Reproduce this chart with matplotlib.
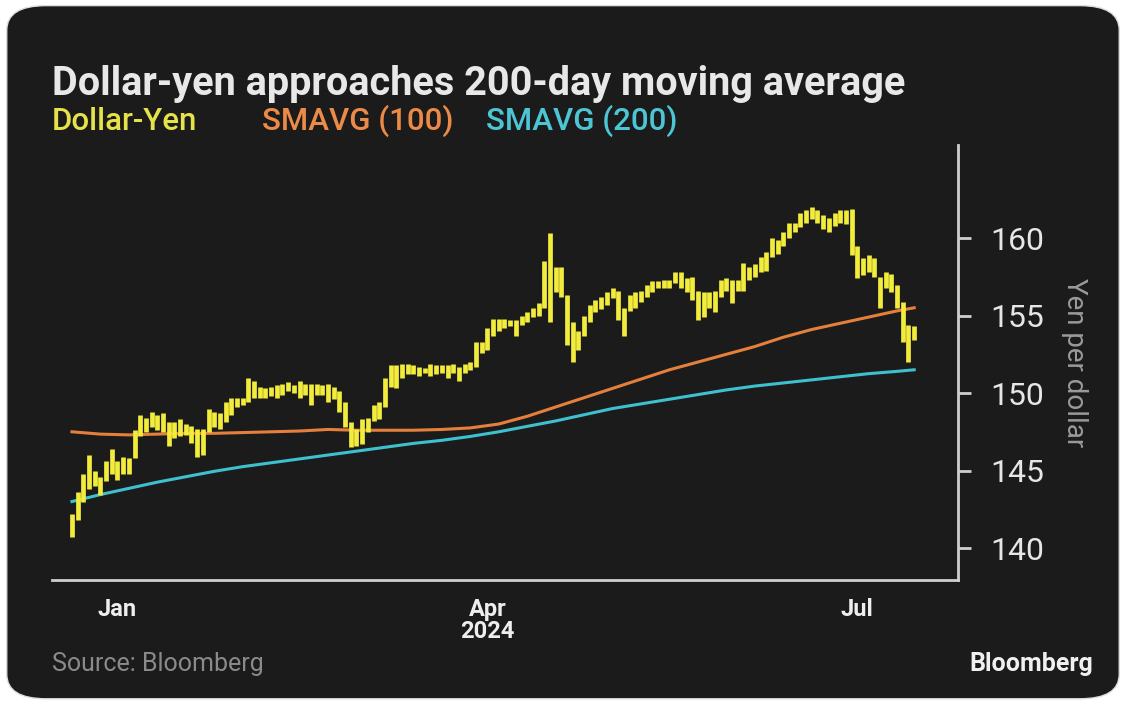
import matplotlib.pyplot as plt
import numpy as np
import pandas as pd
from matplotlib.patches import FancyBboxPatch

plt.rcParams['font.family'] = ['Roboto', 'DejaVu Sans']

# ---------------------------
# Data
# ---------------------------
dates = pd.bdate_range("2024-01-02", "2024-07-26")   # 149 trading days

high = [142.2, 143.6, 144.8, 146.0, 145.0, 144.6, 145.6, 146.4, 145.6, 145.9,
        145.8, 147.6, 148.6, 148.4, 148.8, 148.6, 148.7, 148.1, 148.1, 148.3,
        148.0, 147.9, 147.7, 147.7, 149.0, 148.8, 148.7, 149.4, 149.7, 149.7,
        149.7, 151.0, 150.8, 150.4, 150.3, 150.4, 150.5, 150.6, 150.7, 150.5,
        150.8, 150.6, 150.6, 150.6, 150.5, 150.6, 150.4, 150.1, 149.4, 148.1,
        147.7, 148.3, 148.4, 149.2, 149.4, 151.0, 151.8, 151.8, 151.9, 151.9,
        151.8, 151.7, 151.6, 151.9, 151.8, 151.8, 151.8, 151.9, 151.7, 151.9,
        152.0, 153.3, 153.3, 154.2, 154.8, 154.8, 154.8, 154.7, 154.7, 155.0,
        155.2, 155.5, 155.8, 158.5, 160.3, 158.1, 158.1, 156.3, 154.6, 154.0,
        155.0, 155.7, 156.0, 156.2, 156.5, 156.8, 156.6, 155.5, 156.3, 156.5,
        156.6, 157.0, 157.2, 157.2, 157.3, 157.3, 157.8, 157.8, 157.4, 157.5,
        156.6, 156.5, 156.5, 156.6, 157.3, 157.4, 157.3, 157.3, 158.4, 158.1,
        158.3, 158.8, 159.1, 160.0, 159.9, 160.4, 161.0, 161.0, 161.6, 161.8,
        162.0, 161.8, 161.5, 161.3, 161.6, 161.8, 161.8, 161.9, 159.5, 158.7,
        158.9, 158.7, 157.5, 157.8, 157.7, 157.0, 155.9, 154.4, 154.3]

low = [140.7, 141.8, 143.0, 143.8, 144.0, 143.4, 144.3, 144.8, 144.4, 144.8,
       144.8, 145.8, 147.2, 147.5, 147.8, 147.6, 147.5, 146.6, 147.1, 147.2,
       147.3, 146.8, 145.9, 146.0, 147.5, 147.8, 147.7, 148.1, 148.6, 149.1,
       149.2, 149.4, 149.7, 149.7, 149.7, 149.8, 149.7, 149.9, 150.1, 150.0,
       149.7, 149.9, 149.2, 149.9, 149.9, 149.4, 149.6, 148.8, 147.8, 146.5,
       146.6, 146.7, 147.5, 148.2, 148.3, 149.1, 150.4, 150.3, 151.0, 151.2,
       151.2, 151.1, 151.3, 151.1, 151.2, 151.3, 151.0, 151.3, 150.8, 151.3,
       151.5, 151.7, 152.6, 152.8, 153.7, 154.0, 154.2, 154.3, 153.7, 154.4,
       154.6, 154.9, 155.0, 155.5, 154.6, 156.5, 156.2, 153.1, 152.0, 152.8,
       153.7, 154.6, 155.2, 155.4, 155.7, 156.1, 154.7, 153.7, 155.3, 155.5,
       155.9, 156.2, 156.5, 156.8, 156.8, 156.8, 157.1, 156.8, 156.5, 156.0,
       154.7, 154.9, 155.5, 155.2, 156.2, 156.6, 155.8, 156.6, 156.6, 157.3,
       157.5, 157.8, 157.9, 158.8, 159.0, 159.5, 160.0, 160.4, 160.7, 161.0,
       161.2, 161.0, 160.6, 160.4, 160.8, 161.0, 160.9, 158.9, 157.4, 157.6,
       157.8, 157.5, 155.5, 156.8, 156.5, 155.5, 153.3, 152.0, 153.4]

# moving averages, read every 5th trading day
ma_idx = [0, 5, 10, 15, 20, 25, 30, 35, 40, 45, 50, 55, 60, 65, 70,
          75, 80, 85, 90, 95, 100, 105, 110, 115, 120, 125, 130, 135, 140, 145, 148]
sma100 = [147.5, 147.35, 147.3, 147.35, 147.4, 147.4, 147.45, 147.5, 147.55, 147.65,
          147.6, 147.6, 147.6, 147.65, 147.75, 148.0, 148.5, 149.1, 149.7, 150.3,
          150.9, 151.5, 152.0, 152.5, 153.0, 153.6, 154.1, 154.5, 154.9, 155.3, 155.5]
sma200 = [143.0, 143.45, 143.85, 144.25, 144.6, 144.95, 145.25, 145.5, 145.75, 146.0,
          146.25, 146.5, 146.75, 146.95, 147.2, 147.5, 147.85, 148.2, 148.6, 149.0,
          149.3, 149.6, 149.9, 150.2, 150.45, 150.65, 150.85, 151.05, 151.25, 151.4, 151.5]

tick_dates = ["2024-01-12", "2024-04-12", "2024-07-12"]
tick_labels = ["Jan", "Apr\n2024", "Jul"]
y_ticks = [140, 145, 150, 155, 160]

# ---------------------------
# Styling
# ---------------------------
BG = "#1b1b1b"
YELLOW = "#f2ec3c"
ORANGE = "#e57f3c"
CYAN = "#3fc0cf"
AXIS = "#cfcfcf"

fig = plt.figure(figsize=(11.26, 7.03), dpi=100)
fig.patch.set_facecolor("white")
panel = FancyBboxPatch((0.006, 0.006), 0.988, 0.986,
                       boxstyle="round,pad=0,rounding_size=0.035",
                       transform=fig.transFigure, facecolor=BG,
                       edgecolor="#dddddd", linewidth=1, zorder=-10)
fig.patches.append(panel)

ax = fig.add_axes([0.0462, 0.175, 0.8046, 0.6187])
ax.set_facecolor(BG)

x = np.arange(len(dates))
ax.plot(ma_idx, sma200, color=CYAN, lw=2.2, zorder=2)
ax.plot(ma_idx, sma100, color=ORANGE, lw=2.2, zorder=2)
ax.vlines(x, low, high, color=YELLOW, lw=3.4, zorder=3)

ax.set_xlim(-3.5, 155.7)
ax.set_ylim(137.94, 166.0)

ax.yaxis.tick_right()
ax.yaxis.set_label_position("right")
ax.set_yticks(y_ticks)
ax.tick_params(axis="y", colors=AXIS, length=9, width=2, pad=14,
               labelsize=23, labelcolor="#e6e6e6")
ax.set_ylabel("Yen per dollar", rotation=270, color="#9a9a9a",
              fontsize=20, labelpad=32)

tick_pos = [dates.get_loc(pd.Timestamp(d)) for d in tick_dates]
ax.set_xticks(tick_pos)
ax.set_xticklabels(tick_labels, fontsize=17, fontweight="bold",
                   color="#eeeeee", linespacing=0.95)
ax.tick_params(axis="x", length=0, pad=13)

for side in ["top", "left"]:
    ax.spines[side].set_visible(False)
for side in ["bottom", "right"]:
    ax.spines[side].set_color(AXIS)
    ax.spines[side].set_linewidth(2)

# title + legend text
fig.text(0.046, 0.865, "Dollar-yen approaches 200-day moving average",
         color="#e8e8e8", fontsize=28.5, fontweight="bold")
fig.text(0.046, 0.815, "Dollar-Yen", color="#e6e24a", fontsize=22.5,
         fontweight="medium")
fig.text(0.233, 0.815, "SMAVG (100)", color="#ec8a48", fontsize=22.5,
         fontweight="medium")
fig.text(0.432, 0.815, "SMAVG (200)", color="#4cc6d4", fontsize=22.5,
         fontweight="medium")

fig.text(0.046, 0.045, "Source: Bloomberg", color="#8a8a8a", fontsize=18)
fig.text(0.971, 0.045, "Bloomberg", color="#f0f0f0", fontsize=18,
         fontweight="bold", ha="right")

fig.savefig("out.png", dpi=100, facecolor=fig.get_facecolor())
